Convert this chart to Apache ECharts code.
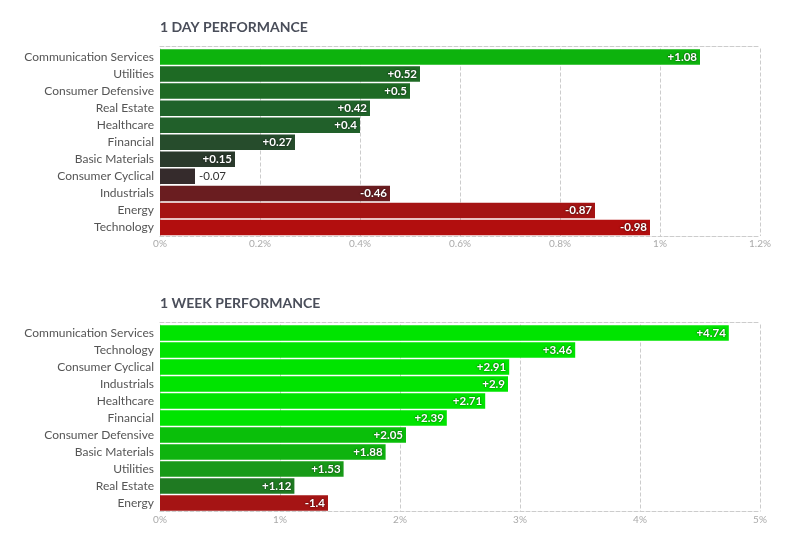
<!DOCTYPE html>
<html>
<head>
<meta charset="utf-8">
<script src="https://cdn.jsdelivr.net/npm/echarts@6/dist/echarts.min.js"></script>
<style>
html,body{margin:0;padding:0;background:#fff;}
#c{width:800px;height:552px;}
</style>
</head>
<body>
<div id="c"></div>
<script>
const dayCategories = ['Communication Services','Utilities','Consumer Defensive','Real Estate','Healthcare','Financial','Basic Materials','Consumer Cyclical','Industrials','Energy','Technology'];
const dayValues = [1.08, 0.52, 0.5, 0.42, 0.4, 0.27, 0.15, -0.07, -0.46, -0.87, -0.98];
const dayColors = ['#0db30d','#1e6a24','#1e6a24','#20632a','#21602a','#264c2c','#2a3a2c','#352b2c','#6a1d20','#a51414','#b20e0e'];
const dayTicks = [0, 0.2, 0.4, 0.6, 0.8, 1, 1.2];

const weekCategories = ['Communication Services','Technology','Consumer Cyclical','Industrials','Healthcare','Financial','Consumer Defensive','Basic Materials','Utilities','Real Estate','Energy'];
const weekValues = [4.74, 3.46, 2.91, 2.9, 2.71, 2.39, 2.05, 1.88, 1.53, 1.12, -1.4];
const weekColors = ['#00e400','#00e400','#00e400','#00e400','#00e400','#00e400','#0abf0a','#0fb30f','#189a18','#1f7a22','#a51414'];
const weekTicks = [0, 1, 2, 3, 4, 5];

const FONT = 'Lato, "Noto Sans", sans-serif';

function fmt(v){ return (v > 0 ? '+' : '') + v; }

function buildData(values, colors, max){
  return values.map(function(v, i){
    const a = Math.abs(v);
    const inside = a / max > 0.09;
    return {
      value: a,
      itemStyle: { color: colors[i] },
      label: inside ? {
        show: true, position: 'insideRight', distance: 3,
        color: '#fff', fontWeight: 'bold', fontSize: 11.5, fontFamily: FONT,
        textShadowColor: 'rgba(0,0,0,0.8)', textShadowBlur: 2,
        formatter: function(){ return fmt(v); }
      } : {
        show: true, position: 'right', distance: 4,
        color: '#333', fontWeight: 'normal', fontSize: 11.5, fontFamily: FONT,
        formatter: function(){ return fmt(v); }
      }
    };
  });
}

function xAxisFor(gridIndex, ticks){
  const min = ticks[0], max = ticks[ticks.length-1];
  const interval = ticks[1] - ticks[0];
  return [{
    type: 'value', gridIndex: gridIndex, min: min, max: max, interval: interval,
    axisLine: { show: true, lineStyle: { color: '#ccc', type: 'dashed' } },
    axisTick: { show: false },
    splitLine: { show: true, lineStyle: { color: '#ccc', type: 'dashed' } },
    axisLabel: { color: '#aaa', fontSize: 10, fontFamily: FONT, margin: 3,
      formatter: function(v){ return parseFloat(v.toFixed(2)) + '%'; } }
  }, {
    type: 'value', gridIndex: gridIndex, position: 'top', offset: 2.5, min: min, max: max, interval: interval,
    axisLine: { show: true, lineStyle: { color: '#ccc', type: 'dashed' } },
    axisTick: { show: false }, axisLabel: { show: false }, splitLine: { show: false }
  }];
}

function yAxisFor(gridIndex, cats){
  return {
    type: 'category', gridIndex: gridIndex, data: cats, inverse: true,
    axisLine: { show: false }, axisTick: { show: false },
    axisLabel: { color: '#555', fontSize: 12, fontFamily: FONT, margin: 6 }
  };
}

const chart = echarts.init(document.getElementById('c'), null, { renderer: 'canvas' });
chart.setOption({
  animation: false,
  backgroundColor: '#fff',
  title: [
    { text: '1 DAY PERFORMANCE', left: 155, top: 15,
      textStyle: { color: '#4a4e5a', fontSize: 14, fontWeight: 'bold', fontFamily: FONT } },
    { text: '1 WEEK PERFORMANCE', left: 155, top: 291,
      textStyle: { color: '#4a4e5a', fontSize: 14, fontWeight: 'bold', fontFamily: FONT } }
  ],
  grid: [
    { left: 160, right: 40, top: 48.5, height: 187.5 },
    { left: 160, right: 40, top: 324.5, height: 187 }
  ],
  xAxis: xAxisFor(0, dayTicks).concat(xAxisFor(1, weekTicks)),
  yAxis: [yAxisFor(0, dayCategories), yAxisFor(1, weekCategories)],
  series: [
    { type: 'bar', xAxisIndex: 0, yAxisIndex: 0, barCategoryGap: '9%',
      data: buildData(dayValues, dayColors, dayTicks[dayTicks.length-1]) },
    { type: 'bar', xAxisIndex: 2, yAxisIndex: 1, barCategoryGap: '9%',
      data: buildData(weekValues, weekColors, weekTicks[weekTicks.length-1]) }
  ]
});
</script>
</body>
</html>
